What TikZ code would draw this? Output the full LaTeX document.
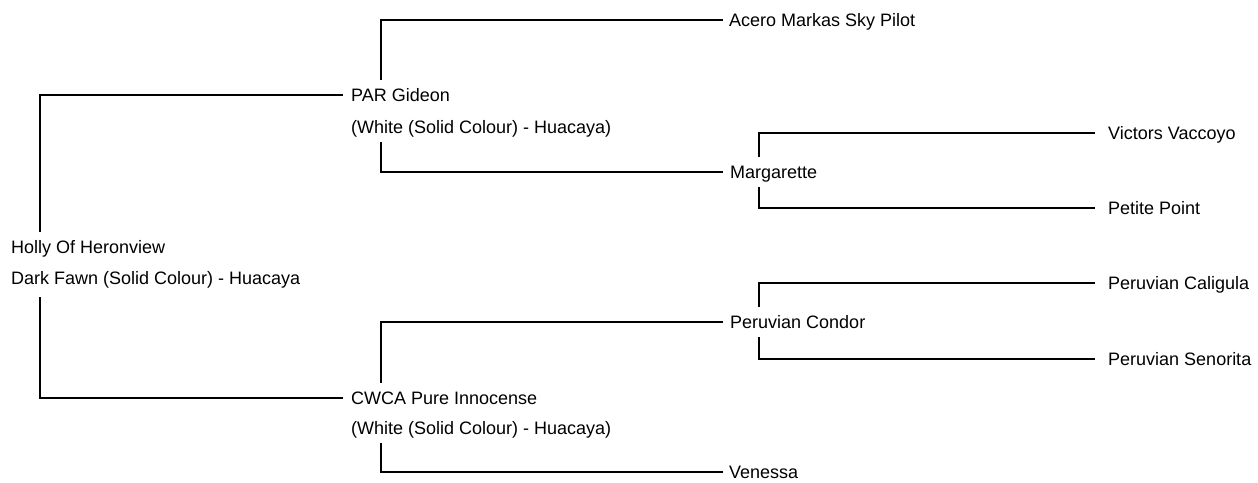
\documentclass[tikz,border=0pt]{standalone}
\usepackage{fontspec}
\setmainfont{Liberation Sans}
\begin{document}
\begin{tikzpicture}[x=1pt,y=-1pt,
  lbl/.style={anchor=west,inner xsep=0pt,inner ysep=0pt,text height=12.9pt,text depth=0pt,minimum height=30pt,font=\fontsize{18pt}{20pt}\selectfont},
  conn/.style={draw=black,line width=1.3pt}]
\useasboundingbox[fill=white] (0,0) rectangle (1258,482);
% nodes
\node[lbl] (holly) at (11,247) {Holly Of Heronview};
\node[lbl] (hollyd) at (11,278) {Dark Fawn (Solid Colour) - Huacaya};
\node[lbl] (par) at (351,95) {PAR Gideon};
\node[lbl] (pard) at (351,127) {(White (Solid Colour) - Huacaya)};
\node[lbl] (cwca) at (351,398) {CWCA Pure Innocense};
\node[lbl] (cwcad) at (351,428) {(White (Solid Colour) - Huacaya)};
\node[lbl] (acero) at (729,20) {Acero Markas Sky Pilot};
\node[lbl] (marg) at (730,172) {Margarette};
\node[lbl] (condor) at (730,322) {Peruvian Condor};
\node[lbl] (venessa) at (729,472) {Venessa};
\node[lbl] (victors) at (1108,133) {Victors Vaccoyo};
\node[lbl] (petite) at (1108,208) {Petite Point};
\node[lbl] (caligula) at (1108,283) {Peruvian Caligula};
\node[lbl] (senorita) at (1108,359) {Peruvian Senorita};
% connectors
\draw[conn] ([xshift=29pt]holly.north west) |- ([xshift=-8pt]par.west);
\draw[conn] ([xshift=29pt,yshift=-4pt]hollyd.south west) |- ([xshift=-8pt]cwca.west);
\draw[conn] ([xshift=30pt]par.north west) |- ([xshift=-6pt]acero.west);
\draw[conn] ([xshift=30pt]pard.south west) |- ([xshift=-7pt]marg.west);
\draw[conn] ([xshift=30pt]cwca.north west) |- ([xshift=-7pt]condor.west);
\draw[conn] ([xshift=30pt]cwcad.south west) |- ([xshift=-6pt]venessa.west);
\draw[conn] ([xshift=29pt]marg.north west) |- ([xshift=-13pt]victors.west);
\draw[conn] ([xshift=29pt]marg.south west) |- ([xshift=-13pt]petite.west);
\draw[conn] ([xshift=29pt]condor.north west) |- ([xshift=-13pt]caligula.west);
\draw[conn] ([xshift=29pt]condor.south west) |- ([xshift=-13pt]senorita.west);
\end{tikzpicture}
\end{document}
